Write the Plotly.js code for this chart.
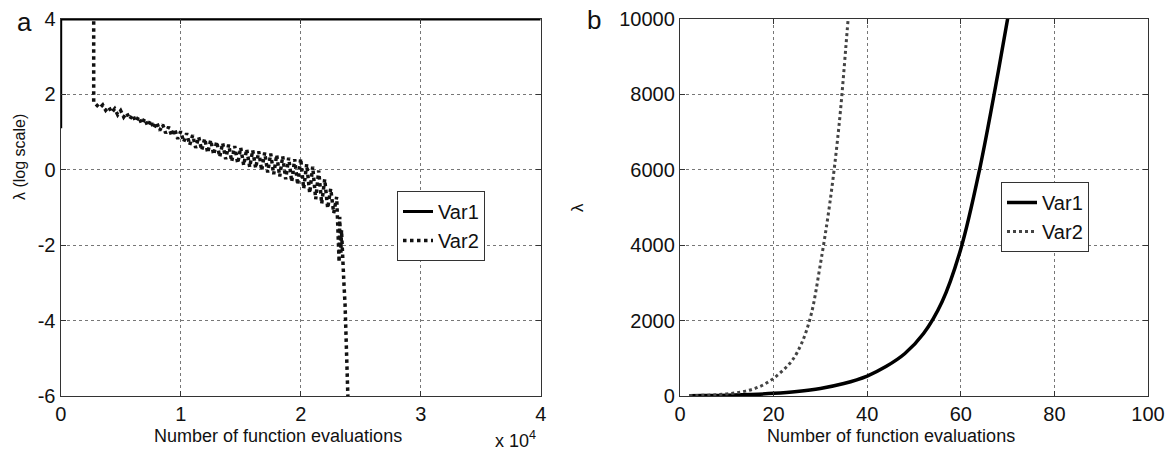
<!DOCTYPE html>
<html>
<head>
<meta charset="utf-8">
<script src="https://cdn.plot.ly/plotly-3.0.1.min.js"></script>
<style>html,body{margin:0;padding:0;background:#fff;}#chart{width:1169px;height:451px;}</style>
</head>
<body>
<div id="chart"></div>
<script>
// Panel a (log scale of lambda)
const a_var1_x = [0, 0, 40000];
const a_var1_y = [1.1, 4.0, 4.0];
const a_var2_x = [2750, 2750, 3000, 3250, 3500, 3750, 4000, 4250, 4500, 4750, 5000, 5250, 5500, 5750, 6000, 6250, 6500, 6750, 7000, 7250, 7500, 7750, 8000, 8250, 8500, 8750, 9000, 9250, 9500, 9750, 10000, 10250, 10500, 10750, 11000, 11250, 11500, 11750, 12000, 12250, 12500, 12750, 13000, 13250, 13500, 13750, 14000, 14250, 14500, 14750, 15000, 15250, 15500, 15750, 16000, 16250, 16500, 16750, 17000, 17250, 17500, 17750, 18000, 18250, 18500, 18750, 19000, 19250, 19500, 19750, 20000, 20250, 20500, 20750, 21000, 21250, 21500, 21750, 22000, 22250, 22500, 22750, 23000, 23200, 23250, 23350, 23400, 23500, 23600, 23700, 23750, 23850, 23950];
const a_var2_y = [4.5, 1.80, 1.72, 1.64, 1.72, 1.58, 1.67, 1.52, 1.62, 1.46, 1.57, 1.40, 1.51, 1.34, 1.46, 1.28, 1.41, 1.22, 1.36, 1.16, 1.31, 1.10, 1.26, 1.04, 1.20, 0.97, 1.14, 0.90, 1.08, 0.82, 1.02, 0.74, 0.97, 0.66, 0.92, 0.58, 0.87, 0.52, 0.83, 0.45, 0.79, 0.40, 0.75, 0.34, 0.71, 0.28, 0.67, 0.22, 0.63, 0.17, 0.59, 0.12, 0.55, 0.07, 0.52, 0.04, 0.49, -0.02, 0.46, -0.07, 0.43, -0.12, 0.40, -0.18, 0.36, -0.25, 0.32, -0.32, 0.28, -0.40, 0.30, -0.50, 0.15, -0.62, 0.08, -0.78, -0.02, -0.90, -0.25, -1.02, -0.50, -1.15, -0.72, -2.45, -1.25, -2.20, -1.60, -2.50, -3.00, -3.60, -4.00, -5.00, -6.20];
const a_xticks = [0, 10000, 20000, 30000, 40000];
const a_xticklabels = ['0', '1', '2', '3', '4'];
const a_yticks = [-6, -4, -2, 0, 2, 4];
const a_yticklabels = ['-6', '-4', '-2', '0', '2', '4'];

// Panel b (lambda)
const b_var1_x = [2, 5, 10, 15, 20, 25, 30, 35, 40, 44, 48, 52, 56, 60, 64, 68, 70, 71];
const b_var1_y = [5, 10, 20, 40, 70, 120, 200, 330, 530, 780, 1120, 1650, 2500, 3900, 6000, 8600, 10000, 10700];
const b_var2_x = [2, 4, 6, 8, 10, 12, 14, 16, 18, 20, 22, 24, 26, 28, 30, 32, 34, 36, 37];
const b_var2_y = [10, 15, 22, 35, 55, 85, 130, 200, 310, 470, 680, 950, 1400, 2150, 3500, 5100, 7200, 10100, 11500];
const b_xticks = [0, 20, 40, 60, 80, 100];
const b_yticks = [0, 2000, 4000, 6000, 8000, 10000];
const b_yticklabels = ['0', '2000', '4000', '6000', '8000', '10000'];

const FONT = 'Liberation Sans, Arial, sans-serif';

const traces = [
  {x: a_var1_x, y: a_var1_y, name: 'Var1', mode: 'lines', xaxis: 'x', yaxis: 'y',
   line: {color: '#000', width: 3}, legend: 'legend'},
  {x: a_var2_x, y: a_var2_y, name: 'Var2', mode: 'lines', xaxis: 'x', yaxis: 'y',
   line: {color: '#111', width: 3.5, dash: 'dot'}, legend: 'legend'},
  {x: b_var1_x, y: b_var1_y, name: 'Var1', mode: 'lines', xaxis: 'x2', yaxis: 'y2',
   line: {color: '#000', width: 3.5, shape: 'spline', smoothing: 1}, legend: 'legend2'},
  {x: b_var2_x, y: b_var2_y, name: 'Var2', mode: 'lines', xaxis: 'x2', yaxis: 'y2',
   line: {color: '#444', width: 3, dash: 'dot', shape: 'spline'}, legend: 'legend2'}
];

const axBase = {
  showline: true, mirror: 'ticks', linecolor: '#333', linewidth: 1.2,
  ticks: 'inside', ticklen: 5, tickcolor: '#333',
  showgrid: true, gridcolor: '#777', griddash: 'dot', gridwidth: 1,
  zeroline: false, automargin: false,
  tickfont: {family: FONT, size: 20, color: '#111'}
};

const layout = {
  width: 1169, height: 451,
  margin: {l: 0, r: 0, t: 0, b: 0},
  paper_bgcolor: '#fff', plot_bgcolor: '#fff',
  showlegend: true,
  xaxis: Object.assign({}, axBase, {domain: [60.7/1169, 540.7/1169], range: [0, 40000],
    tickvals: a_xticks, ticktext: a_xticklabels, anchor: 'y'}),
  yaxis: Object.assign({}, axBase, {domain: [1 - 396/451, 1 - 19/451], range: [-6, 4],
    tickvals: a_yticks, ticktext: a_yticklabels, anchor: 'x'}),
  xaxis2: Object.assign({}, axBase, {domain: [680/1169, 1148/1169], range: [0, 100],
    tickvals: b_xticks, anchor: 'y2'}),
  yaxis2: Object.assign({}, axBase, {domain: [1 - 396/451, 1 - 19/451], range: [0, 10000],
    tickvals: b_yticks, ticktext: b_yticklabels, anchor: 'x2'}),
  legend: {x: 397/1169, y: 1 - 191/451, xanchor: 'left', yanchor: 'top',
    bgcolor: '#fff', bordercolor: '#333', borderwidth: 1,
    font: {family: FONT, size: 20, color: '#111'}, tracegroupgap: 0, itemwidth: 30},
  legend2: {x: 1001/1169, y: 1 - 252/451, xanchor: 'left', yanchor: 'bottom',
    bgcolor: '#fff', bordercolor: '#333', borderwidth: 1,
    font: {family: FONT, size: 20, color: '#111'}, tracegroupgap: 0, itemwidth: 30},
  annotations: [
    {text: 'a', x: 15/1169, y: 1 - 22/451, xref: 'paper', yref: 'paper', showarrow: false,
     xanchor: 'left', yanchor: 'middle', font: {family: FONT, size: 26, color: '#111'}},
    {text: 'b', x: 585/1169, y: 1 - 20/451, xref: 'paper', yref: 'paper', showarrow: false,
     xanchor: 'left', yanchor: 'middle', font: {family: FONT, size: 26, color: '#111'}},
    {text: 'Number of function evaluations', x: 278/1169, y: 1 - 436/451, xref: 'paper', yref: 'paper',
     showarrow: false, xanchor: 'center', yanchor: 'middle', font: {family: FONT, size: 18, color: '#111'}},
    {text: 'Number of function evaluations', x: 891/1169, y: 1 - 436/451, xref: 'paper', yref: 'paper',
     showarrow: false, xanchor: 'center', yanchor: 'middle', font: {family: FONT, size: 18, color: '#111'}},
    {text: 'x 10<sup>4</sup>', x: 493/1169, y: 1 - 439/451, xref: 'paper', yref: 'paper',
     showarrow: false, xanchor: 'left', yanchor: 'middle', font: {family: FONT, size: 18, color: '#111'}},
    {text: 'λ (log scale)', x: 19/1169, y: 1 - 157/451, xref: 'paper', yref: 'paper', textangle: -90,
     showarrow: false, xanchor: 'center', yanchor: 'middle', font: {family: FONT, size: 16, color: '#111'}},
    {text: 'λ', x: 577/1169, y: 1 - 208/451, xref: 'paper', yref: 'paper', textangle: -90,
     showarrow: false, xanchor: 'center', yanchor: 'middle', font: {family: FONT, size: 17, color: '#111'}}
  ]
};

Plotly.newPlot('chart', traces, layout, {staticPlot: true, displayModeBar: false});
</script>
</body>
</html>
